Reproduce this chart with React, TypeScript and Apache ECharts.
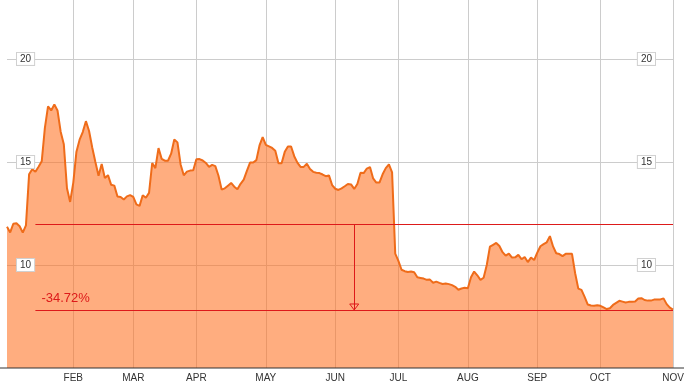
import React, { useEffect, useRef } from 'react';
import * as echarts from 'echarts';

const monthNames = ['JAN', 'FEB', 'MAR', 'APR', 'MAY', 'JUN', 'JUL', 'AUG', 'SEP', 'OCT', 'NOV'];
const tradingDaysPerMonth = [21, 19, 20, 22, 22, 20, 22, 22, 20, 23, 1];

const prices = [
  // JAN
  11.85, 11.58, 12.0, 12.02, 11.88, 11.57, 11.92, 14.4, 14.65, 14.52, 14.77, 15.03, 16.65, 17.7, 17.5, 17.79, 17.5, 16.47, 15.86, 13.72, 13.06,
  // FEB
  14.0, 15.5, 16.08, 16.45, 16.98, 16.5, 15.7, 15.0, 14.33, 14.9, 14.22, 14.36, 13.89, 13.85, 13.32, 13.3, 13.18, 13.33, 13.39,
  // MAR
  13.3, 12.94, 12.87, 13.38, 13.26, 13.5, 14.95, 14.7, 15.67, 15.15, 15.06, 15.06, 15.4, 16.09, 15.95, 14.88, 14.35, 14.53, 14.58, 14.6,
  // APR
  15.13, 15.14, 15.07, 14.95, 14.76, 14.86, 14.8, 14.33, 13.66, 13.72, 13.85, 13.98, 13.8, 13.67, 13.94, 14.14, 14.57, 14.97, 14.97, 15.09, 15.8, 16.2,
  // MAY
  15.83, 15.76, 15.68, 15.54, 14.94, 14.94, 15.49, 15.75, 15.75, 15.28, 14.97, 14.76, 14.76, 14.91, 14.66, 14.52, 14.48, 14.46, 14.39, 14.31, 14.35, 13.88,
  // JUN
  13.7, 13.64, 13.72, 13.82, 13.93, 13.91, 13.69, 13.93, 14.48, 14.46, 14.68, 14.75, 14.2, 14.0, 14.0, 14.4, 14.7, 14.88, 14.5, 10.55,
  // JUL
  10.2, 9.77, 9.7, 9.66, 9.68, 9.65, 9.4, 9.37, 9.34, 9.28, 9.29, 9.14, 9.19, 9.13, 9.08, 9.1, 9.07, 9.02, 8.94, 8.8, 8.86, 8.89,
  // AUG
  8.87, 9.4, 9.68, 9.5, 9.28, 9.38, 10.0, 10.89, 10.98, 11.07, 10.92, 10.62, 10.45, 10.55, 10.36, 10.37, 10.49, 10.28, 10.39, 10.14, 10.36, 10.24,
  // SEP
  10.6, 10.91, 11.01, 11.1, 11.4, 10.9, 10.57, 10.53, 10.43, 10.54, 10.55, 10.54, 9.6, 8.85, 8.79, 8.45, 8.08, 8.03, 8.02, 8.05,
  // OCT
  8.02, 7.94, 7.86, 7.9, 8.06, 8.16, 8.26, 8.22, 8.18, 8.21, 8.22, 8.23, 8.37, 8.39, 8.3, 8.27, 8.27, 8.32, 8.32, 8.33, 8.38, 8.1, 7.93,
  // NOV
  7.83,
];

const yMin = 5;
const yMax = 22.86;
const yInterval = 5;

const refHigh = 11.97;
const refLow = 7.815;
const changeLabel = '-34.72%';
const refStartIndex = 9.4;
const arrowIndex = 110;

const categories: string[] = [];
const monthStarts = new Set<number>();
tradingDaysPerMonth.forEach((n, m) => {
  for (let d = 0; d < n; d++) {
    if (d === 0) monthStarts.add(categories.length);
    categories.push(`${monthNames[m]} ${d + 1}`);
  }
});

const RED = '#dd1a1a';
const FONT = 'Arial, "Liberation Sans", sans-serif';

export default function App() {
  const ref = useRef<HTMLDivElement>(null);
  useEffect(() => {
    if (!ref.current) return;
    const chart = echarts.init(ref.current, undefined, { renderer: 'svg' });
    const showMonth = (i: number) => i > 0 && monthStarts.has(i);
    const labelBox = {
      inside: true,
      showMinLabel: false,
      showMaxLabel: false,
      color: '#333',
      fontSize: 10,
      fontFamily: FONT,
      backgroundColor: '#fff',
      borderColor: '#d0d0d0',
      borderWidth: 1,
      padding: [1, 3, 1, 3],
    };
    chart.setOption({
      animation: false,
      grid: { left: 7, right: 14, top: 0, bottom: 19, containLabel: false },
      xAxis: {
        type: 'category',
        data: categories,
        boundaryGap: false,
        axisLine: { show: false },
        axisTick: { show: false },
        axisLabel: {
          interval: showMonth,
          formatter: (v: string) => v.split(' ')[0],
          color: '#333',
          fontSize: 10,
          fontFamily: FONT,
          margin: 4,
        },
        splitLine: { show: true, interval: showMonth, lineStyle: { color: '#cccccc', width: 1 } },
      },
      yAxis: [
        {
          type: 'value', min: yMin, max: yMax, interval: yInterval, position: 'left',
          axisLine: { show: false }, axisTick: { show: false }, axisLabel: { show: false },
          splitLine: { show: true, showMinLine: false, showMaxLine: false, lineStyle: { color: '#cccccc', width: 1 } },
        },
        {
          type: 'value', min: yMin, max: yMax, interval: yInterval, position: 'left', z: 10,
          axisLine: { show: false }, axisTick: { show: false },
          axisLabel: { ...labelBox, margin: 10 },
          splitLine: { show: false },
        },
        {
          type: 'value', min: yMin, max: yMax, interval: yInterval, position: 'right', z: 10,
          axisLine: { show: false }, axisTick: { show: false },
          axisLabel: { ...labelBox, margin: 18 },
          splitLine: { show: false },
        },
      ],
      series: [
        {
          type: 'line',
          data: prices,
          yAxisIndex: 0,
          showSymbol: false,
          symbol: 'none',
          lineStyle: { color: '#ef6c1a', width: 2 },
          itemStyle: { color: '#ef6c1a' },
          areaStyle: { color: 'rgb(255,110,30)', opacity: 0.57 },
          markLine: {
            silent: true,
            symbol: ['none', 'none'],
            lineStyle: { color: RED, width: 1, type: 'solid' },
            label: { show: false },
            emphasis: { disabled: true },
            data: [
              [{ coord: [refStartIndex, refHigh] }, { coord: [categories.length - 1, refHigh] }],
              [
                {
                  coord: [refStartIndex, refLow],
                  label: {
                    show: true,
                    position: 'insideStartTop',
                    formatter: changeLabel,
                    color: RED,
                    fontSize: 13,
                    fontFamily: FONT,
                    distance: 6,
                  },
                },
                { coord: [categories.length - 1, refLow] },
              ],
              [{ coord: [arrowIndex, refHigh] }, { coord: [arrowIndex, refLow] }],
            ],
          },
        },
      ],
    });
    const tip = chart.convertToPixel({ xAxisIndex: 0, yAxisIndex: 0 }, [arrowIndex, refLow]) as number[];
    const base = chart.convertToPixel({ xAxisIndex: 0, yAxisIndex: 0 }, [0, yMin]) as number[];
    chart.setOption({
      graphic: [
        {
          type: 'polygon',
          z: 100,
          shape: { points: [[tip[0] - 4.5, tip[1] - 6], [tip[0] + 4.5, tip[1] - 6], [tip[0], tip[1]]] },
          style: { fill: 'none', stroke: RED, lineWidth: 1 },
        },
        {
          type: 'line',
          z: 100,
          shape: { x1: 0, y1: base[1], x2: 684, y2: base[1] },
          style: { stroke: '#333', lineWidth: 1 },
        },
      ],
    });
    return () => chart.dispose();
  }, []);
  return <div ref={ref} style={{ position: 'fixed', left: 0, top: 0, width: 687, height: 387 }} />;
}
